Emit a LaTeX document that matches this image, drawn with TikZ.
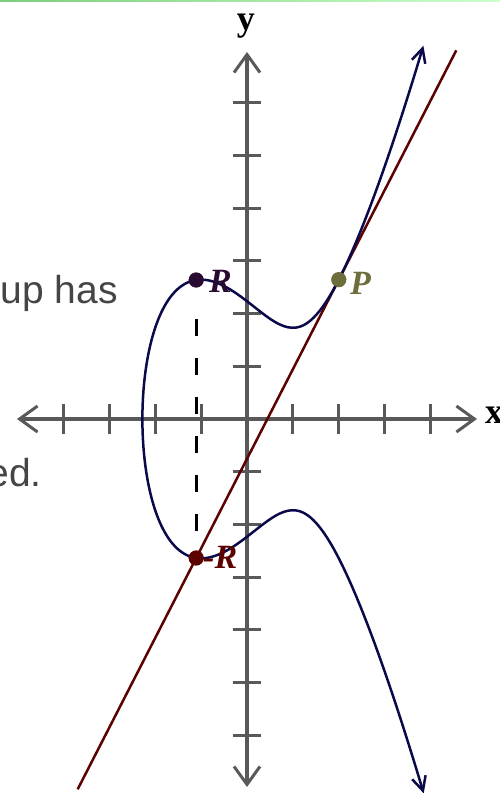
\documentclass[tikz,border=0pt]{standalone}
\usepackage{fontspec}
\usepackage{tikz}
\usetikzlibrary{arrows.meta}
\newfontfamily\pagefont{Liberation Sans}
\newfontfamily\labelfont{Liberation Serif}
\definecolor{axisgray}{HTML}{595959}
\definecolor{curvenavy}{HTML}{0A0A4A}
\definecolor{linered}{HTML}{5C0000}
\definecolor{pointolive}{HTML}{6E6E3C}
\definecolor{pointdark}{HTML}{2A0A30}
\definecolor{pagetext}{HTML}{454545}
\tikzstyle{axis} = [draw=axisgray, line width=4pt, arrows={Straight Barb[length=18pt,width=26pt,line width=3pt]-Straight Barb[length=18pt,width=26pt,line width=3pt]}]
\tikzstyle{tick} = [draw=axisgray, line width=3pt]
\tikzstyle{curve} = [draw=curvenavy, line width=2.5pt, arrows={Straight Barb[length=14pt,width=14pt]-Straight Barb[length=14pt,width=14pt]}]
\tikzstyle{tangent} = [draw=linered, line width=2.5pt]
\tikzstyle{drop} = [draw=black, line width=3pt, dash pattern=on 17pt off 22pt, dash phase=17pt]
\tikzstyle{dot} = [circle, inner sep=0pt, minimum size=15pt]
\tikzstyle{ptlabel} = [inner sep=0pt, font=\fontsize{34}{34}\selectfont\labelfont\bfseries\itshape]
\tikzstyle{axlabel} = [inner sep=0pt, font=\fontsize{36}{36}\selectfont\labelfont\bfseries]
\tikzstyle{pagetxt} = [inner sep=0pt, text=pagetext, font=\fontsize{39}{39}\selectfont\pagefont]

\begin{document}
\begin{tikzpicture}[x=45.9pt, y=52.67pt,
    declare function={ecq(\x)=\x*\x-2.279*\x+2.1938;}]
    \useasboundingbox (-247pt,-374pt) rectangle (253pt,419pt);
    \clip (-247pt,-374pt) rectangle (253pt,419pt);
    \shade[left color=green!45!gray!70, right color=green!20] (-247pt,417pt) rectangle (253pt,419pt);

    % page text behind the figure
    \node [pagetxt, anchor=base east] (txtup) at (-129pt,116pt) {up has};
    \node [pagetxt, anchor=base east] (txted) at (-205pt,-67pt) {ed.};

    % axes
    \coordinate (xl) at (-230pt,0);
    \coordinate (xr) at (230pt,0);
    \coordinate (yb) at (0,-368pt);
    \coordinate (yt) at (0,367pt);
    \path [axis] (xl) -- (xr);
    \path [axis] (yb) -- (yt);
    \foreach \i in {-4,...,4}
        \path [tick] (\i,-15pt) -- (\i,15pt);
    \foreach \j in {-6,...,6}
        \path [tick] (-14pt,\j) -- (14pt,\j);
    \node [axlabel] (xlab) at (247pt,4pt) {x};
    \node [axlabel] (ylab) at (-1pt,393pt) {y};

    % points
    \node [dot, fill=pointolive] (P) at (2,2.6458) {};
    \node [dot, fill=pointdark] (R) at (-1.107,2.639) {};
    \node [dot, fill=linered] (mR) at (-1.107,-2.639) {};

    % tangent through P and -R
    \coordinate (lo) at (-3.689,-7.03);
    \coordinate (hi) at (4.56,7.0);
    \path [tangent] (lo) -- (hi);

    % the curve y^2 = x^3 - 3x + 5
    \path [curve] plot [domain=-2.4757:2.4757, samples=201, variable=\t, smooth]
        ({-2.279+\t*\t},{\t*sqrt(ecq(-2.279+\t*\t))});

    \path [drop, shorten <=9.5pt, shorten >=3pt] (R) -- (mR);
    \node [dot, fill=pointolive] at (P) {};
    \node [dot, fill=pointdark] at (R) {};
    \node [dot, fill=linered] at (mR) {};

    % labels
    \node [ptlabel, text=pointdark, anchor=base west] (Rlab) at (-38pt,127pt) {R};
    \node [ptlabel, text=linered, anchor=base west] (mRlab) at (-44pt,-149pt) {-R};
    \node [ptlabel, text=pointolive, anchor=base west] (Plab) at (103pt,125pt) {P};
\end{tikzpicture}
\end{document}
